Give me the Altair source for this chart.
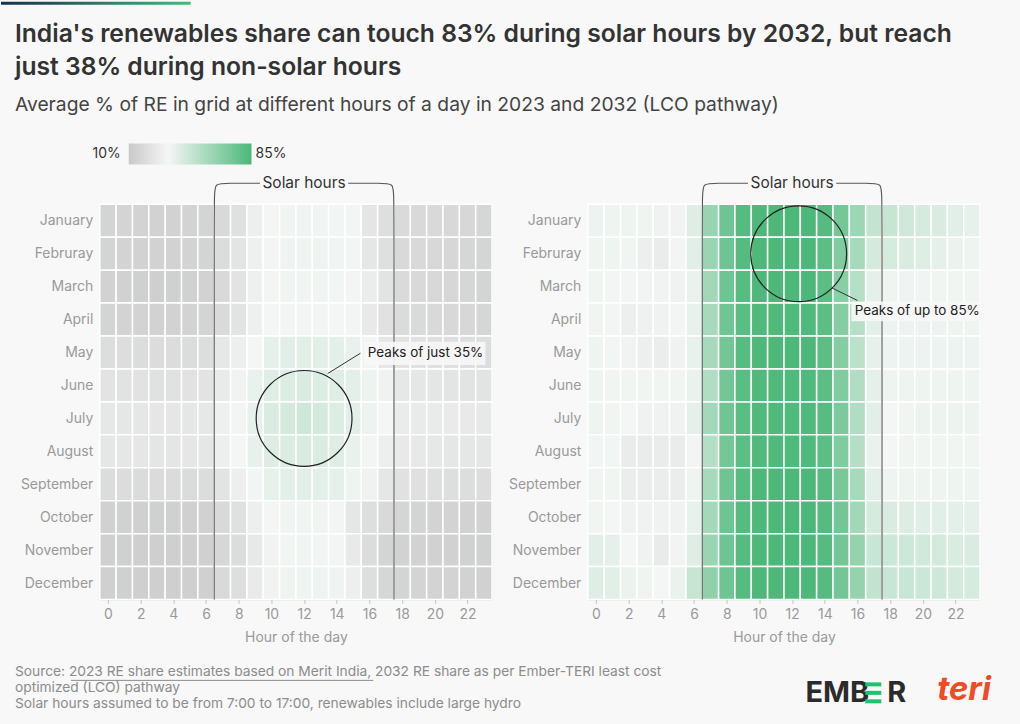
import altair as alt
import pandas as pd

# ---------------- data ----------------
months = ["January", "Februray", "March", "April", "May", "June", "July",
          "August", "September", "October", "November", "December"]
hours = list(range(24))

# Average % RE in grid, 2023 (rows = months, cols = hour 0..23)
re_2023 = [
    [12.6, 12.5, 12.3, 12.2, 12.2, 12.4, 12.6, 13.6, 15.3, 18.4, 20.5, 21.5, 21.8, 21.6, 21.3, 20.6, 16.3, 14.8, 14.0, 13.8, 13.6, 13.4, 13.2, 13.0],
    [12.6, 12.4, 12.2, 12.1, 12.2, 12.4, 12.6, 14.4, 16.2, 18.7, 20.8, 21.8, 22.2, 22.0, 21.6, 20.6, 16.7, 15.0, 13.8, 13.6, 13.4, 13.2, 13.0, 12.8],
    [12.2, 12.0, 11.7, 11.6, 11.7, 11.9, 12.2, 13.6, 15.8, 18.7, 20.6, 21.4, 21.6, 21.5, 21.0, 19.8, 18.0, 16.0, 14.0, 13.6, 13.4, 13.2, 13.0, 12.6],
    [12.6, 12.4, 12.3, 12.2, 12.2, 12.4, 12.6, 14.0, 16.0, 18.7, 20.4, 20.8, 21.0, 20.8, 20.5, 19.8, 17.2, 15.4, 14.2, 13.9, 13.6, 13.4, 13.2, 13.0],
    [14.6, 14.5, 14.4, 14.3, 14.3, 14.4, 14.6, 16.9, 18.4, 20.4, 26.0, 27.0, 27.4, 27.2, 26.6, 24.8, 20.8, 16.7, 15.6, 15.4, 15.2, 15.0, 14.8, 14.6],
    [15.8, 15.7, 15.6, 15.5, 15.5, 15.6, 15.8, 17.6, 19.4, 24.5, 28.5, 29.5, 30.0, 29.5, 28.6, 26.5, 22.6, 19.0, 16.8, 16.6, 16.4, 16.2, 16.0, 15.9],
    [16.8, 16.7, 16.6, 16.5, 16.5, 16.6, 16.8, 18.6, 20.6, 25.3, 30.0, 32.5, 35.0, 33.0, 29.5, 27.0, 22.8, 20.3, 17.8, 17.6, 17.5, 17.4, 17.2, 17.0],
    [16.7, 16.6, 16.5, 16.4, 16.4, 16.5, 16.7, 18.4, 20.2, 25.0, 29.0, 29.8, 30.2, 29.8, 28.4, 24.8, 20.8, 18.4, 17.2, 17.0, 16.8, 16.7, 16.6, 16.6],
    [14.4, 14.3, 14.2, 14.1, 14.1, 14.2, 14.4, 16.0, 18.4, 21.0, 25.6, 26.5, 27.0, 26.5, 25.8, 22.5, 19.0, 16.7, 15.4, 15.2, 15.0, 14.8, 14.6, 14.5],
    [12.0, 11.9, 11.8, 11.7, 11.7, 11.8, 12.0, 13.6, 15.3, 18.4, 20.4, 21.4, 21.6, 21.4, 20.6, 16.7, 14.8, 13.6, 12.8, 12.6, 12.4, 12.3, 12.2, 12.1],
    [11.8, 11.7, 11.6, 11.5, 11.5, 11.6, 11.8, 13.2, 14.4, 17.0, 19.4, 21.0, 21.4, 21.2, 20.8, 17.2, 14.4, 12.6, 12.2, 12.1, 12.0, 12.0, 11.9, 11.9],
    [11.8, 11.7, 11.6, 11.5, 11.5, 11.6, 11.8, 13.6, 14.8, 17.4, 19.4, 22.0, 22.4, 22.2, 21.8, 18.5, 14.8, 13.0, 12.6, 12.5, 12.4, 12.3, 12.2, 12.0],
]

# Average % RE in grid, 2032 LCO pathway
re_2032 = [
    [22.7, 22.5, 22.5, 22.0, 19.0, 19.4, 28.5, 56, 72, 82, 85, 85, 85, 85, 82, 69, 54, 39, 38, 34.5, 32, 30, 27, 25],
    [22.0, 22.5, 21.5, 18.5, 17.8, 19.8, 27.0, 55, 72, 82, 85, 85, 85, 85, 79, 65, 50, 33, 32, 30, 28.5, 26, 23, 22.5],
    [21.5, 20.8, 20.8, 19.6, 19.3, 19.1, 24.0, 52, 72, 81, 85, 85, 85, 85, 79, 62, 44, 26, 22, 21.8, 21.6, 21.5, 21.5, 21.5],
    [21.5, 20.8, 18.5, 18.8, 19.0, 19.8, 24.5, 50, 71, 80, 84, 84, 84, 84, 79, 63, 44, 26.5, 22.7, 22.7, 22.7, 22.7, 22.5, 22.5],
    [22.5, 21.0, 19.3, 18.5, 18.0, 19.0, 24.5, 50, 70, 81, 85, 85, 85, 85, 79, 63, 42, 25, 22.7, 22.7, 22.7, 22.7, 22.7, 22.7],
    [22.5, 21.5, 21.5, 21.5, 21.5, 21.5, 24.0, 46, 70, 80, 84, 84, 84, 84, 79, 65, 46, 26, 22.5, 22.5, 22.5, 22.5, 22.5, 22.5],
    [22.5, 21.5, 20.5, 19.2, 19.2, 19.2, 25.8, 51, 71, 80, 84, 84, 84, 84, 81, 67, 46, 27, 20.5, 21.5, 22.6, 22.6, 22.6, 22.6],
    [21.0, 21.3, 17.8, 17.8, 17.8, 17.8, 19.8, 45, 69, 79, 84, 84, 84, 84, 79, 65, 45, 24, 20.5, 21.5, 21.5, 21.5, 21.5, 21.5],
    [21.5, 21.5, 18.0, 18.0, 18.0, 18.0, 22.5, 50, 72, 81, 85, 85, 85, 85, 82, 68, 50, 26.5, 22.5, 22.5, 22.5, 22.5, 22.5, 22.5],
    [21.5, 20.0, 19.0, 19.0, 19.0, 19.0, 24.5, 51, 72, 82, 85, 85, 85, 85, 82, 70, 52, 32, 30, 29, 28, 27, 26.5, 26],
    [27.0, 25.8, 20.3, 19.2, 17.6, 19.5, 28.5, 55, 72, 82, 85, 85, 85, 85, 82, 70, 57, 37, 36, 35, 34, 33, 31, 30],
    [28.5, 27.5, 23.0, 22.0, 20.5, 24.0, 38.0, 59, 72, 82, 85, 85, 85, 85, 82, 70, 57, 39.5, 37, 37, 36, 35, 33, 32],
]

hour_ticks = list(range(0, 24, 2))
solar_start, solar_end = 6.5, 17.5          # boundaries of 7:00-17:00 columns
solar_label = "Solar hours"
peak_2023 = {"hour": 12.0, "month": 6, "label": "Peaks of just 35%"}
peak_2032 = {"hour": 12.4, "month": 1, "label": "Peaks of up to 85%"}

title_lines = ["India's renewables share can touch 83% during solar hours by 2032, but reach",
               "just 38% during non-solar hours"]
subtitle = "Average % of RE in grid at different hours of a day in 2023 and 2032 (LCO pathway)"
legend_min, legend_max = "10%", "85%"
footer_lines = ["Source: 2023 RE share estimates based on Merit India, 2032 RE share as per Ember-TERI least cost",
                "optimized (LCO) pathway",
                "Solar hours assumed to be from 7:00 to 17:00, renewables include large hydro"]

color_domain = [10, 20, 85]
color_range = ["#c8c8c8", "#f4f6f5", "#4db87a"]

# ---------------- layout constants ----------------
W, H = 393, 396
GAP = 96
FONT = "Inter"
BG = "#f8f8f8"
GREY_TXT = "#9a9a9a"

x_scale = alt.Scale(domain=[-0.5, 23.5], nice=False, zero=False)
y_scale = alt.Scale(domain=[-0.5, 11.5], nice=False, zero=False, reverse=True)
label_expr = "[" + ",".join("'" + m + "'" for m in months) + "][datum.value]"

x_axis = alt.Axis(values=hour_ticks, title="Hour of the day", domain=False, grid=False,
                  tickColor="#c4c4c4", tickSize=4, labelColor=GREY_TXT, labelFontSize=14,
                  labelPadding=4, titleColor=GREY_TXT, titleFontSize=14,
                  titleFontWeight="normal", titlePadding=9, labelFont=FONT,
                  titleFont=FONT, labelOverlap=False, labelFlush=False, zindex=1)
y_axis = alt.Axis(values=list(range(12)), labelExpr=label_expr, title=None, domain=False,
                  grid=False, ticks=False, tickSize=0, labelPadding=7, labelColor=GREY_TXT,
                  labelFontSize=14, labelFont=FONT, labelOverlap=False,
                  labelFlush=False, zindex=1)


def heat_df(vals):
    rows = []
    for mi, row in enumerate(vals):
        for h, v in zip(hours, row):
            rows.append({"month": months[mi], "m": mi, "hour": h, "re": v,
                         "x0": h - 0.5, "x1": h + 0.5, "y0": mi - 0.5, "y1": mi + 0.5})
    return pd.DataFrame(rows)


def one(**kw):
    return pd.DataFrame([kw])


def XQ(f):
    return alt.X(f, type="quantitative", scale=x_scale, axis=x_axis)


def YQ(f):
    return alt.Y(f, type="quantitative", scale=y_scale, axis=y_axis)


def panel(vals, peak, box, leader, extra_layers):
    heat = alt.Chart(heat_df(vals)).mark_rect(stroke="white", strokeWidth=1.5).encode(
        x=XQ("x0"), x2="x1:Q", y=YQ("y0"), y2="y1:Q",
        color=alt.Color("re:Q", scale=alt.Scale(domain=color_domain, range=color_range,
                                                 interpolate="rgb"), legend=None),
    )

    # solar-hours bracket
    top, knee = -1.14, -0.78
    pts = []
    for side, xe, sgn in [("L", solar_start, 1), ("R", solar_end, -1)]:
        seq = [(xe, 11.5), (xe, knee), (xe, top), (xe + sgn * 0.85, top), (12 - sgn * 2.7, top)]
        for i, (px, py) in enumerate(seq):
            pts.append({"seg": side, "i": i, "x0": px, "y0": py})
    bracket = alt.Chart(pd.DataFrame(pts)).mark_line(
        interpolate="basis", color="#555555", strokeWidth=1.1).encode(
        x=XQ("x0"), y=YQ("y0"), detail="seg:N", order="i:Q")
    blabel = alt.Chart(one(t=solar_label, x0=(solar_start + solar_end) / 2, y0=top)).mark_text(
        font=FONT, fontSize=15.5, color="#333333", baseline="middle").encode(
        x=XQ("x0"), y=YQ("y0"), text="t:N")

    circle = alt.Chart(one(x0=peak["hour"], y0=peak["month"])).mark_point(
        shape="circle", size=9216, filled=False, stroke="#222222", strokeWidth=1.2, opacity=1).encode(
        x=XQ("x0"), y=YQ("y0"))
    lead = alt.Chart(one(x0=leader[0], y0=leader[1], x1=leader[2], y1=leader[3])).mark_rule(
        color="#333333", strokeWidth=1).encode(
        x=XQ("x0"), y=YQ("y0"), x2="x1:Q", y2="y1:Q")
    bx = alt.Chart(one(x0=box[0], x1=box[1], y0=box[2], y1=box[3])).mark_rect(
        color="#f7f7f7", opacity=0.9).encode(
        x=XQ("x0"), x2="x1:Q", y=YQ("y0"), y2="y1:Q")
    btxt = alt.Chart(one(t=peak["label"], x0=box[0] + 0.2, y0=(box[2] + box[3]) / 2)).mark_text(
        font=FONT, fontSize=13.5, color="#222222", align="left", baseline="middle").encode(
        x=XQ("x0"), y=YQ("y0"), text="t:N")

    layers = extra_layers[:1] + [heat, bracket, blabel, circle, lead, bx, btxt] + extra_layers[1:]
    return alt.layer(*layers).properties(width=W, height=H)


dummy = one(a=0)


def txt(s, x, y, size, color, weight="normal", align="left", style="normal"):
    return alt.Chart(one(t=s)).mark_text(
        font=FONT, fontSize=size, color=color, fontWeight=weight, align=align,
        baseline="middle", fontStyle=style).encode(
        text="t:N", x=alt.value(x), y=alt.value(y))


def box_px(x, x2, y, y2, color):
    return alt.Chart(dummy).mark_rect(color=color).encode(
        x=alt.value(x), x2=alt.value(x2), y=alt.value(y), y2=alt.value(y2))


# decorations of the left panel (origin of plot = page (99, 203))
OX, OY = 99, 203
anchor = alt.Chart(dummy).mark_rect(color=BG, opacity=0).encode(
    x=alt.value(-OX), x2=alt.value(1020 - OX), y=alt.value(-OY), y2=alt.value(724 - OY))
topbar = alt.Chart(dummy).mark_rect(color=alt.Gradient(
    gradient="linear", x1=0, x2=1, y1=0, y2=0,
    stops=[alt.GradientStop(color="#14304f", offset=0),
           alt.GradientStop(color="#4cb87a", offset=1)])).encode(
    x=alt.value(-OX), x2=alt.value(190 - OX), y=alt.value(-OY), y2=alt.value(3 - OY))
legend_bar = alt.Chart(dummy).mark_rect(color=alt.Gradient(
    gradient="linear", x1=0, x2=1, y1=0, y2=0,
    stops=[alt.GradientStop(color="#c8c8c8", offset=0),
           alt.GradientStop(color="#f6f6f6", offset=0.32),
           alt.GradientStop(color="#4cb879", offset=1)])).encode(
    x=alt.value(128 - OX), x2=alt.value(251 - OX), y=alt.value(142 - OY), y2=alt.value(163 - OY))

left_extra = [
    anchor, topbar,
    txt(title_lines[0], 14 - OX, 33 - OY, 24.7, "#333333", weight=600),
    txt(title_lines[1], 14 - OX, 66 - OY, 24.7, "#333333", weight=600),
    txt(subtitle, 14 - OX, 104 - OY, 19.3, "#444444"),
    legend_bar,
    txt(legend_min, 120 - OX, 153 - OY, 14, "#333333", align="right"),
    txt(legend_max, 255 - OX, 153 - OY, 14, "#333333"),
    txt(footer_lines[0], 14 - OX, 672 - OY, 13.8, "#8c8c8c"),
    txt(footer_lines[1], 14 - OX, 687.5 - OY, 13.8, "#8c8c8c"),
    txt(footer_lines[2], 14 - OX, 704 - OY, 13.8, "#8c8c8c"),
    alt.Chart(dummy).mark_rule(color="#8c8c8c", strokeWidth=1).encode(
        x=alt.value(70 - OX), x2=alt.value(373 - OX), y=alt.value(680 - OY)),
]

RX = OX + W + GAP
right_extra = [
    box_px(0, 0, 0, 0, BG),
    txt("EMB", 806 - RX, 693 - OY, 29, "#2b2b2b", weight="bold"),
    box_px(866 - RX, 882 - RX, 682 - OY, 686 - OY, "#1fc16b"),
    box_px(866 - RX, 882 - RX, 690.5 - OY, 694.5 - OY, "#1fc16b"),
    box_px(866 - RX, 882 - RX, 699 - OY, 703 - OY, "#1fc16b"),
    txt("R", 888 - RX, 693 - OY, 29, "#2b2b2b", weight="bold"),
    txt("teri", 938 - RX, 690 - OY, 33, "#ef4b24", weight="bold", style="italic"),
]

# leader/box coordinates in (hour, month-index) units
left = panel(re_2023, peak_2023,
             box=(15.7, 23.1, 3.67, 4.38), leader=(13.44, 4.64, 15.45, 4.02),
             extra_layers=left_extra)
right = panel(re_2032, peak_2032,
              box=(15.63, 23.5, 2.45, 3.05), leader=(14.44, 2.04, 16.0, 2.42),
              extra_layers=right_extra)

chart = alt.hconcat(left, right, spacing=GAP, bounds="flush").properties(
    padding=0, background=BG
).configure_view(stroke=None).configure(font=FONT).configure_axis(labelOverlap=False)

chart.save("out.html", embed_options={"renderer": "svg", "actions": False})
